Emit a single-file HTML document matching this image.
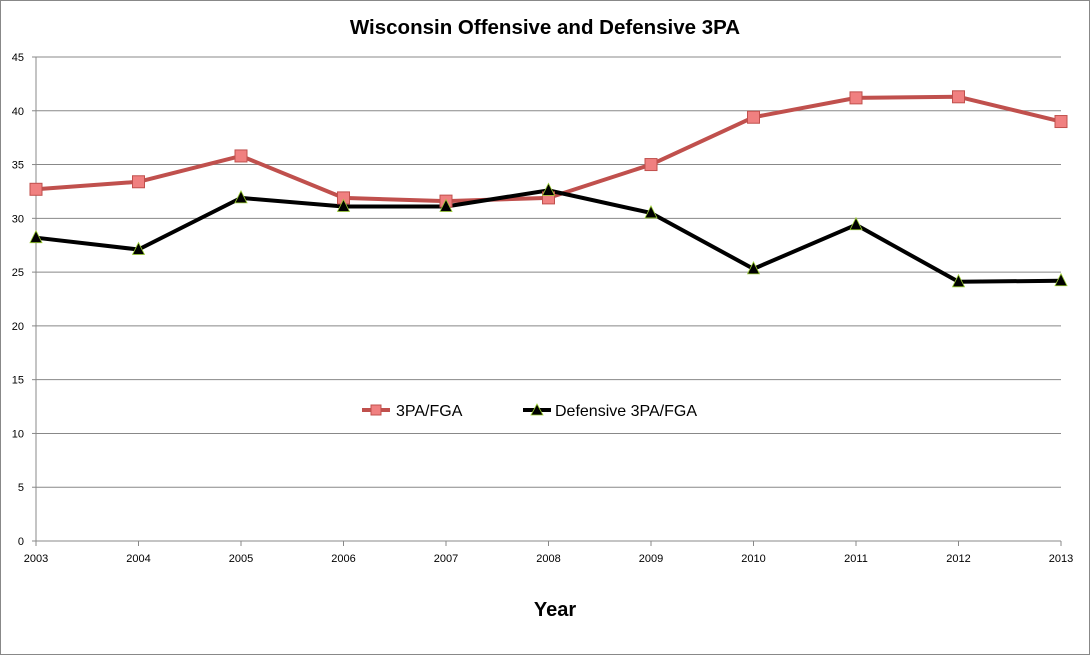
<!DOCTYPE html>
<html><head><meta charset="utf-8"><style>
html,body{margin:0;padding:0;background:#fff;}
svg{display:block;font-family:"Liberation Sans",sans-serif;}
</style></head><body>
<svg id="chart" width="1091" height="656">
<rect x="0.5" y="0.5" width="1089" height="654" fill="#fff" stroke="#888"/>
<text x="545" y="34" text-anchor="middle" font-size="20.5" font-weight="bold" fill="#000">Wisconsin Offensive and Defensive 3PA</text>
<text x="555" y="616" text-anchor="middle" font-size="20" font-weight="bold" fill="#000">Year</text>
<g id="grid"></g><g id="axes"></g><g id="series"></g>
<g>
<g>
<line x1="362" y1="410" x2="390" y2="410" stroke="#c0504d" stroke-width="4"/>
<rect x="371" y="405" width="10" height="10" fill="#f08080" stroke="#c0504d"/>
<text x="396" y="416" font-size="16" fill="#000">3PA/FGA</text></g>
<g>
<line x1="523" y1="410" x2="551" y2="410" stroke="#000" stroke-width="4"/>
<polygon points="537,404 543,415 531,415" fill="#000" stroke="#9acd32" stroke-width="0.8"/>
<text x="555" y="416" font-size="16" fill="#000">Defensive 3PA/FGA</text></g>
</g>
</svg>
<script>
const years=['2003','2004','2005','2006','2007','2008','2009','2010','2011','2012','2013'];
const offense=[32.7,33.4,35.8,31.9,31.6,31.9,35.0,39.4,41.2,41.3,39.0];
const defense=[28.2,27.1,31.9,31.1,31.1,32.6,30.5,25.3,29.4,24.1,24.2];
const yTicks=[0,5,10,15,20,25,30,35,40,45];
const NS='http://www.w3.org/2000/svg';
const X0=36,X1=1061,Y0=541,Y1=57,YMAX=45;
const xs=i=>X0+(X1-X0)*i/(years.length-1);
const ys=v=>Y0-(Y0-Y1)*v/YMAX;
function mk(t,a,p){const e=document.createElementNS(NS,t);for(const k in a)e.setAttribute(k,a[k]);p.appendChild(e);return e;}
const grid=document.getElementById('grid'),axes=document.getElementById('axes'),ser=document.getElementById('series');
yTicks.forEach(v=>{
 const l=mk('line',{x1:X0,x2:X1,y1:ys(v),y2:ys(v),stroke:'#888','stroke-width':1},grid);
 
 
 const t=mk('text',{x:X0-12,y:ys(v)+4,'text-anchor':'end','font-size':11,fill:'#000'},axes);
 t.textContent=v;
 
 
 mk('line',{x1:X0-4,x2:X0,y1:ys(v),y2:ys(v),stroke:'#888'},axes);
});
const ya=mk('line',{x1:X0,x2:X0,y1:Y1,y2:Y0,stroke:'#888'},axes);


years.forEach((y,i)=>{
 const t=mk('text',{x:xs(i),y:Y0+21,'text-anchor':'middle','font-size':11,fill:'#000'},axes);
 t.textContent=y;
 
 
 mk('line',{x1:xs(i),x2:xs(i),y1:Y0,y2:Y0+5,stroke:'#888'},axes);
});
const op=mk('polyline',{points:offense.map((v,i)=>xs(i)+','+ys(v)).join(' '),fill:'none',stroke:'#c0504d','stroke-width':4,'stroke-linejoin':'round'},ser);


const dp=mk('polyline',{points:defense.map((v,i)=>xs(i)+','+ys(v)).join(' '),fill:'none',stroke:'#000','stroke-width':4,'stroke-linejoin':'round'},ser);


offense.forEach((v,i)=>{
 const r=mk('rect',{x:xs(i)-6,y:ys(v)-6,width:12,height:12,fill:'#f08080',stroke:'#c0504d'},ser);
 
 
});
defense.forEach((v,i)=>{
 const x=xs(i),y=ys(v);
 const p=mk('polygon',{points:`${x},${y-7} ${x+6},${y+5} ${x-6},${y+5}`,fill:'#000',stroke:'#9acd32','stroke-width':0.8},ser);
 
 
});
</script>
</body></html>
